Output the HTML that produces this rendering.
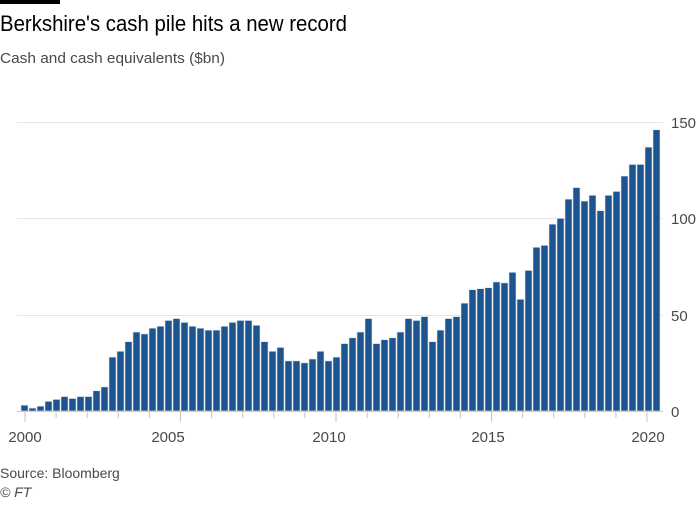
<!DOCTYPE html>
<html><head><meta charset="utf-8"><style>
body{margin:0;background:#fff;font-family:"Liberation Sans",sans-serif;}
</style></head><body>
<svg width="700" height="500" xmlns="http://www.w3.org/2000/svg" font-family="Liberation Sans, sans-serif">
<rect width="700" height="500" fill="#fff"/>
<rect x="0" y="0" width="60" height="4" fill="#000"/>
<text x="0" y="31" font-size="22" fill="#000" textLength="347" lengthAdjust="spacingAndGlyphs">Berkshire's cash pile hits a new record</text>
<text x="0" y="63" font-size="15" fill="#4d4845" textLength="225" lengthAdjust="spacingAndGlyphs">Cash and cash equivalents ($bn)</text>
<g stroke="#e9e4e0" stroke-width="1">
<line x1="17" x2="663" y1="122.5" y2="122.5"/>
<line x1="17" x2="663" y1="218.5" y2="218.5"/>
<line x1="17" x2="663" y1="315.5" y2="315.5"/>
</g>
<line x1="17" x2="663" y1="411.5" y2="411.5" stroke="#ccc1b7"/>
<g font-size="15" fill="#4d4845" text-anchor="start">
<text x="671" y="128">150</text><text x="671" y="224">100</text><text x="671" y="321">50</text><text x="671" y="417">0</text>
</g>
<g font-size="15" fill="#4d4845" text-anchor="middle">
<text x="25" y="442">2000</text><text x="168" y="442">2005</text><text x="329" y="442">2010</text><text x="488" y="442">2015</text><text x="648" y="442">2020</text>
</g>
<g id="bars" fill="#1e548d" stroke="#dfe6ee" stroke-width="0.6"></g>
<g id="ticks" stroke="#ccc1b7"></g>
<text x="0" y="478" font-size="14" fill="#4d4845">Source: Bloomberg</text>
<text x="0" y="497" font-size="14" font-style="italic" fill="#4d4845">© FT</text>
</svg>
<script>
var v=[3,1.5,2.5,5,6,7.5,6.5,7.5,7.5,10.5,12.5,28,31,36,41,40,43,44,47,48,46,44,43,42,42,44,46,47,47,44.5,36,31,33,26,26,25,27,31,26,28,35,38,41,48,35,37,38,41,48,47,49,36,42,48,49,56,63,63.5,64,67,66.5,72,58,73,85,86,97,100,110,116,109,112,104,112,114,122,128,128,137,146];
var g=document.getElementById('bars'),s='';
for(var i=0;i<v.length;i++){var x=21+i*8,h=v[i]*1.926;s+='<rect x="'+x+'" y="'+(411-h)+'" width="7" height="'+h+'"/>';}
g.innerHTML=s;
var t='';for(var k=0;k<=20;k++){var x=25+k*31.1,len=(k%5==0)?10:6;t+='<line x1="'+x+'" x2="'+x+'" y1="412" y2="'+(412+len)+'"/>';}
document.getElementById('ticks').innerHTML=t;
</script>
</body></html>
